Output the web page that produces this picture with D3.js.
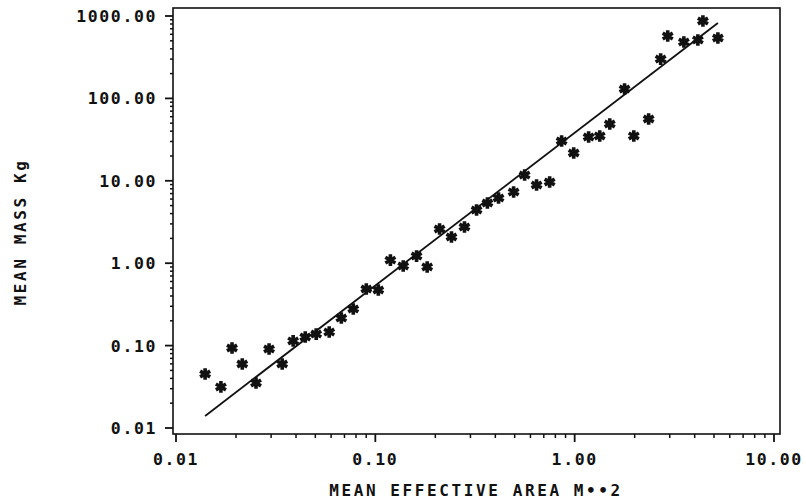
<!DOCTYPE html>
<html>
<head>
<meta charset="utf-8">
<script src="https://cdn.jsdelivr.net/npm/d3@7"></script>
<style>
  body { margin: 0; background: #fff; }
  text { font-family: "DejaVu Sans Mono", monospace; font-weight: bold; fill: #111; }
</style>
</head>
<body>
<svg id="canvas"></svg>
<script>
// mean effective area (m^2) and mean mass (kg)
let area = [0.0140, 0.0168, 0.0191, 0.0215, 0.0252, 0.0293, 0.0341, 0.0387, 0.0445, 0.0505,
            0.0587, 0.0675, 0.0775, 0.0901, 0.1035, 0.119, 0.138, 0.161, 0.182, 0.210,
            0.241, 0.280, 0.322, 0.365, 0.415, 0.494, 0.561, 0.644, 0.749, 0.860,
            0.989, 1.175, 1.336, 1.50, 1.78, 1.98, 2.35, 2.70, 2.93, 3.53,
            4.15, 4.40, 5.23];
let mass = [0.0452, 0.0315, 0.0935, 0.0598, 0.0352, 0.0909, 0.0598, 0.114, 0.127, 0.138,
            0.146, 0.216, 0.278, 0.486, 0.473, 1.09, 0.925, 1.22, 0.90, 2.60,
            2.08, 2.75, 4.42, 5.38, 6.18, 7.31, 11.75, 8.89, 9.67, 30.4,
            21.75, 34.0, 35.0, 48.9, 130, 35.0, 56.2, 300, 571, 483,
            512, 869, 541];

// fitted regression line end points
let fitArea = [0.014, 5.23];
let fitMass = [0.014, 822];

let xTicks = [0.01, 0.1, 1, 10];
let yTicks = [0.01, 0.1, 1, 10, 100, 1000];

let width = 806;
let height = 504;

let svg = d3.select('#canvas').attr('width', width).attr('height', height);

let xScale = d3.scaleLog().domain([0.01, 10]).range([176, 774]);
let yScale = d3.scaleLog().domain([0.01, 1000]).range([428, 16]);

// minor ticks 2..9 in every decade
let minor = (lo, hi) => {
    let out = [];
    for (let e = Math.log10(lo); e < Math.log10(hi); e++) {
        for (let m = 2; m <= 9; m++) out.push(m * Math.pow(10, e));
    }
    return out;
};

let frameL = 173, frameR = 780, frameT = 8, frameB = 434;

/* frame */
svg.append('rect')
    .attr('x', frameL).attr('y', frameT)
    .attr('width', frameR - frameL).attr('height', frameB - frameT)
    .attr('fill', 'none').attr('stroke', '#111').attr('stroke-width', 1.6);

/* x axis ticks */
let xg = svg.append('g').attr('transform', 'translate(0,' + frameB + ')');
xg.selectAll('.minor').data(minor(0.01, 10)).enter().append('line')
    .attr('x1', d => xScale(d)).attr('x2', d => xScale(d))
    .attr('y1', 0).attr('y2', 4)
    .attr('stroke', '#111').attr('stroke-width', 1.5);
xg.selectAll('.major').data(xTicks).enter().append('line')
    .attr('x1', d => xScale(d)).attr('x2', d => xScale(d))
    .attr('y1', 0).attr('y2', 8)
    .attr('stroke', '#111').attr('stroke-width', 1.8);
xg.selectAll('text').data(xTicks).enter().append('text')
    .attr('x', d => xScale(d)).attr('y', 31)
    .attr('text-anchor', 'middle')
    .style('font-size', '16.5px').style('letter-spacing', '1.6px')
    .text(d => d.toFixed(2));

/* y axis ticks */
let yg = svg.append('g').attr('transform', 'translate(' + frameL + ',0)');
yg.selectAll('.minor').data(minor(0.01, 1000)).enter().append('line')
    .attr('y1', d => yScale(d)).attr('y2', d => yScale(d))
    .attr('x1', 0).attr('x2', -3)
    .attr('stroke', '#111').attr('stroke-width', 1.5);
yg.selectAll('.major').data(yTicks).enter().append('line')
    .attr('y1', d => yScale(d)).attr('y2', d => yScale(d))
    .attr('x1', 0).attr('x2', -8)
    .attr('stroke', '#111').attr('stroke-width', 1.8);
yg.selectAll('text').data(yTicks).enter().append('text')
    .attr('x', -16).attr('y', d => yScale(d))
    .attr('dy', '0.36em')
    .attr('text-anchor', 'end')
    .style('font-size', '16.5px').style('letter-spacing', '1.6px')
    .text(d => d.toFixed(2));

/* axis titles */
svg.append('text')
    .attr('x', 476).attr('y', 496)
    .attr('text-anchor', 'middle')
    .style('font-size', '16px').style('letter-spacing', '2.6px')
    .text('MEAN EFFECTIVE AREA M••2');

svg.append('text')
    .attr('transform', 'translate(26,232) rotate(-90)')
    .attr('text-anchor', 'middle')
    .style('font-size', '16px').style('letter-spacing', '2.6px')
    .text('MEAN MASS Kg');

/* regression line */
let line = d3.line().x(d => xScale(d[0])).y(d => yScale(d[1]));
svg.append('path')
    .datum(d3.zip(fitArea, fitMass))
    .attr('d', line)
    .attr('fill', 'none').attr('stroke', '#111').attr('stroke-width', 1.8);

/* data points */
let star = d3.symbol().type(d3.symbolAsterisk).size(95);
svg.selectAll('.pt').data(d3.zip(area, mass)).enter().append('path')
    .attr('class', 'pt')
    .attr('d', star)
    .attr('transform', d => 'translate(' + xScale(d[0]) + ',' + yScale(d[1]) + ')')
    .attr('fill', 'none').attr('stroke', '#111').attr('stroke-width', 3.6);
</script>
</body>
</html>
